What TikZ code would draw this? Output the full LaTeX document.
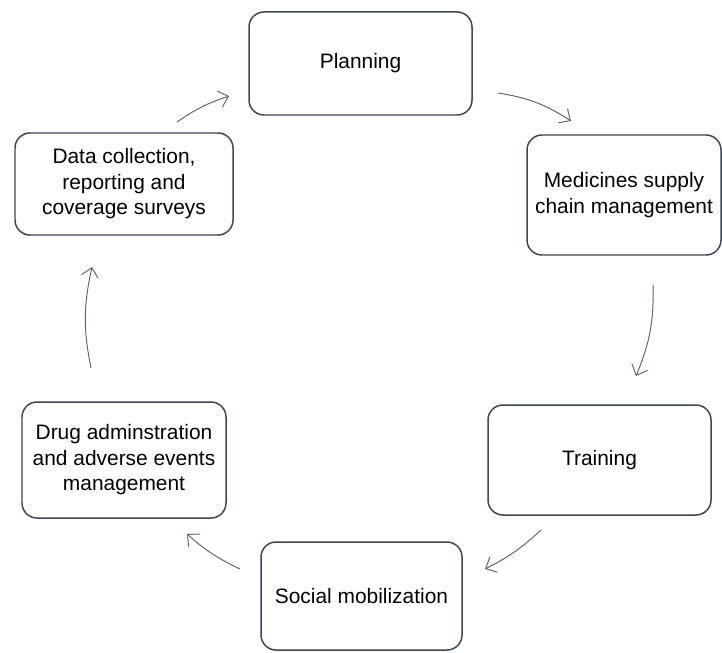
\documentclass[tikz,border=0pt]{standalone}
\usepackage{fontspec}
\setmainfont{Liberation Sans}
\usetikzlibrary{arrows.meta}
\definecolor{boxline}{HTML}{3E4756}
\definecolor{arrowline}{HTML}{5C6574}

\begin{document}
\begin{tikzpicture}[
  box/.style={draw=boxline,line width=0.85pt,rounded corners=0.3cm,align=center,inner sep=1pt,font=\fontsize{11.9}{14.5}\selectfont},
  flow/.style={draw=arrowline,line width=0.55pt,-{Straight Barb[length=1.8mm,width=3.4mm]},bend left=#1},
  flow/.default=15]
\useasboundingbox (0,0) rectangle (14.44,13.04);

% the six steps of the cycle
\node[box,minimum width=4.46cm,minimum height=2.06cm] (plan) at (7.21,11.77) {Planning};
\node[box,minimum width=3.88cm,minimum height=2.40cm] (supply) at (12.48,9.14) {Medicines supply\\chain management};
\node[box,minimum width=4.46cm,minimum height=2.20cm] (train) at (11.99,3.84) {Training};
\node[box,minimum width=4.02cm,minimum height=2.16cm] (social) at (7.23,1.12) {Social mobilization};
\node[box,minimum width=4.08cm,minimum height=2.32cm] (drug) at (2.48,3.84) {Drug adminstration\\and adverse events\\management};
\node[box,minimum width=4.36cm,minimum height=2.04cm] (data) at (2.48,9.36) {Data collection,\\reporting and\\coverage surveys};

% arrow ends
\coordinate (planA) at (9.96,11.18);
\coordinate (supplyA) at (11.42,10.62);
\coordinate (supplyB) at (13.06,7.34);
\coordinate (trainA) at (12.72,5.52);
\coordinate (trainB) at (10.82,2.44);
\coordinate (socialA) at (9.70,1.66);
\coordinate (socialB) at (4.80,1.66);
\coordinate (drugA) at (3.74,2.36);
\coordinate (drugB) at (1.82,5.68);
\coordinate (dataA) at (1.84,7.70);
\coordinate (dataB) at (3.54,10.60);
\coordinate (planB) at (4.58,11.12);

\draw[flow=12] (planA) to (supplyA);
\draw[flow=12] (supplyB) to (trainA);
\draw[flow=8] (trainB) to (socialA);
\draw[flow=8] (socialB) to (drugA);
\draw[flow=12] (drugB) to (dataA);
\draw[flow=8] (dataB) to (planB);

\end{tikzpicture}
\end{document}
